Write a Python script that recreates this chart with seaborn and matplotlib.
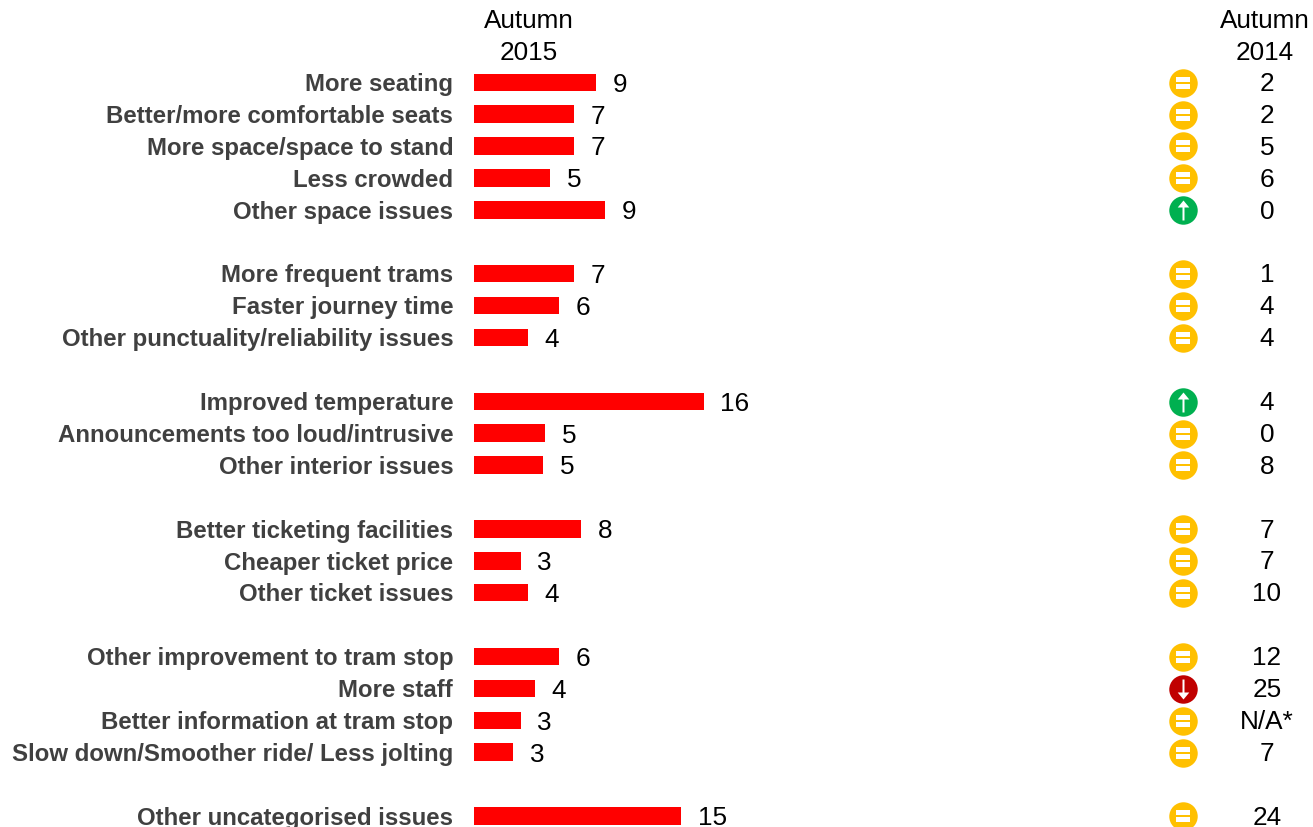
import numpy as np
import pandas as pd
import seaborn as sns
import matplotlib
matplotlib.use("Agg")
import matplotlib.pyplot as plt
from matplotlib.path import Path
from matplotlib.transforms import ScaledTranslation

sns.set_theme(style="white")
plt.rcParams["font.family"] = ["Liberation Sans", "DejaVu Sans"]

# One entry per row; empty strings are the gaps between issue groups.
issues = [
    "More seating", "Better/more comfortable seats", "More space/space to stand",
    "Less crowded", "Other space issues", "",
    "More frequent trams", "Faster journey time", "Other punctuality/reliability issues", "",
    "Improved temperature", "Announcements too loud/intrusive", "Other interior issues", "",
    "Better ticketing facilities", "Cheaper ticket price", "Other ticket issues", "",
    "Other improvement to tram stop", "More staff", "Better information at tram stop",
    "Slow down/Smoother ride/ Less jolting", "",
    "Other uncategorised issues",
]
nan = float("nan")
autumn_2015 = [
    8.7, 7.15, 7.15, 5.45, 9.35, nan,
    7.15, 6.05, 3.85, nan,
    16.4, 5.1, 4.95, nan,
    7.65, 3.35, 3.85, nan,
    6.05, 4.35, 3.35, 2.8, nan,
    14.8,
]
autumn_2014 = [
    "2", "2", "5", "6", "0", "",
    "1", "4", "4", "",
    "4", "0", "8", "",
    "7", "7", "10", "",
    "12", "25", "N/A*", "7", "",
    "24",
]
change = [
    "same", "same", "same", "same", "up", "",
    "same", "same", "same", "",
    "up", "same", "same", "",
    "same", "same", "same", "",
    "same", "down", "same", "same", "",
    "same",
]

badge_colours = {"same": "#FFC000", "up": "#00B050", "down": "#C00000"}

# White glyphs placed on top of the status badges.
equals_glyph = Path(
    [(-1, 0.17), (1, 0.17), (1, 0.8), (-1, 0.8), (-1, 0.17),
     (-1, -0.8), (1, -0.8), (1, -0.17), (-1, -0.17), (-1, -0.8)],
    [1, 2, 2, 2, 79, 1, 2, 2, 2, 79],
)
up_glyph = Path(
    [(-0.1, -1), (0.1, -1), (0.1, 0.3), (0.58, 0.3), (0, 1),
     (-0.58, 0.3), (-0.1, 0.3), (-0.1, -1)],
    [1, 2, 2, 2, 2, 2, 2, 79],
)
down_glyph = Path(up_glyph.vertices * [1, -1], up_glyph.codes)
glyphs = {"same": (equals_glyph, 105), "up": (up_glyph, 207), "down": (down_glyph, 207)}

W, H = 1313, 828
DPI = 100
ROW_PX = 31.9
FIRST_ROW_PX = 83.3
ZERO_PX = 474
UNIT_PX = 14.0

df = pd.DataFrame({
    "row": np.arange(len(issues)),
    "issue": issues,
    "autumn_2015": autumn_2015,
    "autumn_2014": autumn_2014,
    "change": change,
})
shown = df[df["issue"] != ""]

fig = plt.figure(figsize=(W / DPI, H / DPI), dpi=DPI, facecolor="white")
ax = fig.add_axes([ZERO_PX / W, 0, 1 - ZERO_PX / W, 1])

sns.barplot(
    data=shown, x="autumn_2015", y="row", orient="y", native_scale=True,
    color="#FF0000", saturation=1, width=0.55, errorbar=None, linewidth=0, ax=ax,
)

ax.set_xlim(0, (W - ZERO_PX) / UNIT_PX)
ax.set_ylim((H - FIRST_ROW_PX) / ROW_PX, -FIRST_ROW_PX / ROW_PX)

ax.set_yticks(shown["row"], shown["issue"], fontsize=17.25, fontweight="bold", color="#404040")
ax.set_xticks([])
ax.tick_params(axis="y", length=0, pad=15)
ax.set_xlabel("")
ax.set_ylabel("")
sns.despine(ax=ax, left=True, bottom=True)

# Nudge the row names up so they sit level with the bars.
nudge = ScaledTranslation(0, 1.2 / DPI, fig.dpi_scale_trans)
for label in ax.get_yticklabels():
    label.set_transform(label.get_transform() + nudge)

VALUE_PT = 18.8
for _, r in shown.iterrows():
    ax.annotate(f"{r['autumn_2015']:.0f}", (r["autumn_2015"], r["row"]),
                xytext=(11.9, -1), textcoords="offset points",
                ha="left", va="center", fontsize=VALUE_PT, color="black", annotation_clip=False)

# Status badges and the comparison column, on the same row scale as the bars.
BADGE_X = (1183 - ZERO_PX) / UNIT_PX
PRIOR_X = (1267 - ZERO_PX) / UNIT_PX
for status, colour in badge_colours.items():
    part = shown[shown["change"] == status]
    rows = part["row"].to_numpy() + 0.01
    sns.scatterplot(x=np.full(len(part), BADGE_X), y=rows, color=colour, s=420,
                    linewidth=0, ax=ax, legend=False, clip_on=True, zorder=3)
    marker, size = glyphs[status]
    ax.scatter(np.full(len(part), BADGE_X), rows, marker=marker, s=size,
               color="white", linewidths=0, zorder=4)

for _, r in shown.iterrows():
    ax.annotate(r["autumn_2014"], (PRIOR_X, r["row"]), xytext=(0, -0.5),
                textcoords="offset points", ha="center", va="center",
                fontsize=VALUE_PT, color="black")

# Column headings.
for x_px, heading in [(529, "Autumn\n2015"), (1265, "Autumn\n2014")]:
    fig.text(x_px / W, 1 - 37 / H, heading, ha="center", va="center",
             fontsize=VALUE_PT, color="black", linespacing=1.45)

fig.savefig("out.png", dpi=DPI, facecolor="white")
